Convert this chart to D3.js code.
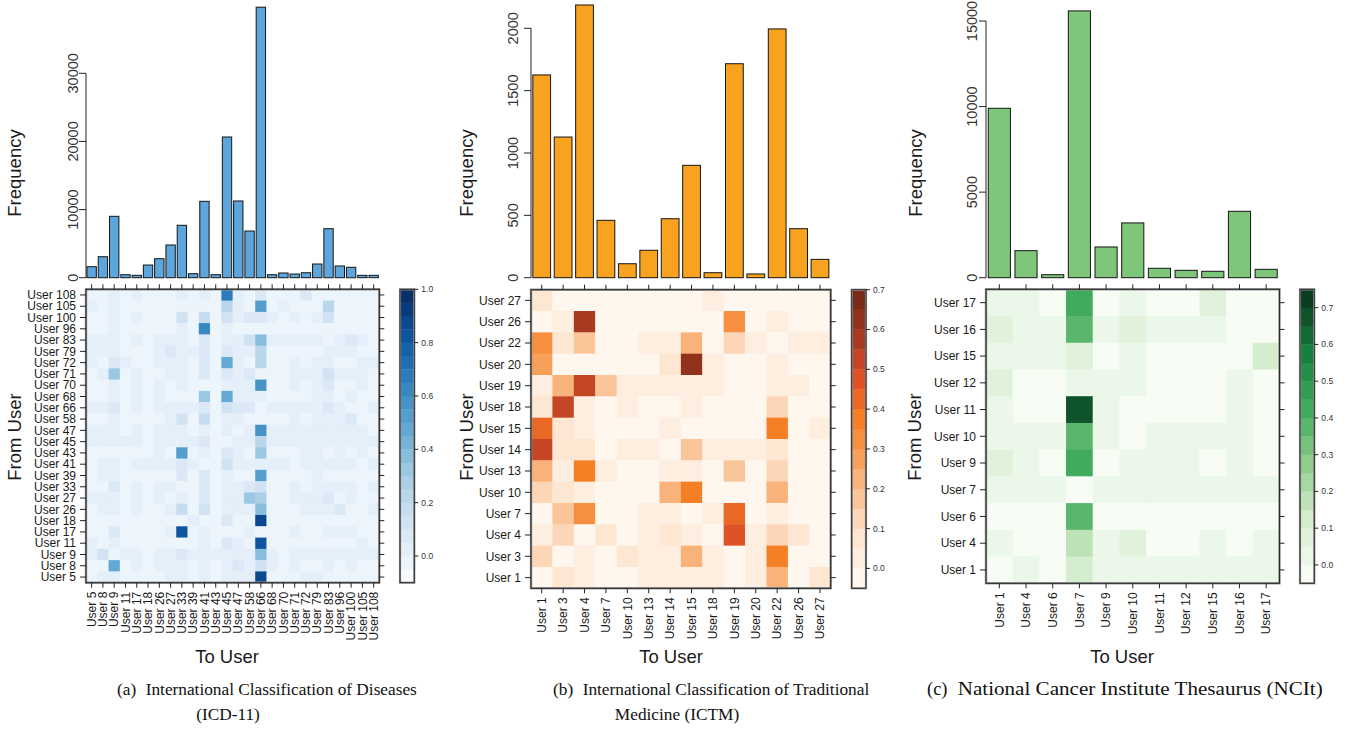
<!DOCTYPE html>
<html>
<head>
<meta charset="utf-8">
<script src="https://cdn.jsdelivr.net/npm/d3@7"></script>
<style>
  body { margin: 0; background: #fff; }
  svg { display: block; }
  text { font-family: "Liberation Sans", Arial, Helvetica, sans-serif; fill: #1a1a1a; }
  .cap { font-family: "Liberation Serif", "Times New Roman", serif; fill: #111; }
</style>
</head>
<body>
<svg id="fig" width="1349" height="731"></svg>
<script>
// ---------------- ICD-11 ----------------
const icdUsers = ["User 5","User 8","User 9","User 11","User 17","User 18","User 26","User 27","User 33","User 39",
  "User 41","User 43","User 45","User 47","User 58","User 66","User 68","User 70","User 71","User 72",
  "User 79","User 83","User 96","User 100","User 105","User 108"];
const icdFrequency = [1615, 3080, 9010, 440, 350, 1860, 2790, 4800, 7690, 590,
  11210, 440, 20650, 11260, 6850, 39700, 440, 690, 540, 730,
  2010, 7190, 1720, 1530, 350, 350];
const icdFreqTicks = [0, 10000, 20000, 30000];
const icdFrom = icdUsers.slice().reverse();          // heatmap rows, top to bottom
const icdMatrix = [
  [-.03,-.03,.02,-.03,.02,-.03,-.03,-.03,.02,-.03,.02,-.03,.67,.02,-.03,.07,-.03,-.03,-.03,.07,-.03,-.03,-.03,-.03,-.03,-.03],
  [.02,-.03,.02,-.03,-.03,-.03,-.03,-.03,-.03,-.03,-.03,-.03,.22,.02,-.03,.52,-.03,.02,-.03,-.03,-.03,.22,-.03,-.03,-.03,-.03],
  [-.03,-.03,.02,-.03,.02,-.03,-.03,-.03,.12,-.03,.17,-.03,.12,.02,.07,.07,.02,-.03,.02,-.03,.02,.12,-.03,-.03,-.03,-.03],
  [-.03,-.03,.02,-.03,-.03,-.03,-.03,-.03,.02,-.03,.62,-.03,.02,-.03,-.03,-.03,-.03,-.03,-.03,-.03,-.03,-.03,-.03,-.03,-.03,-.03],
  [.02,.02,.02,-.03,.02,-.03,.02,.02,.02,-.03,.07,-.03,.02,.02,.12,.37,.02,.02,.02,.02,.02,-.03,.02,.07,.02,-.03],
  [.02,.02,.02,-.03,-.03,-.03,.02,.07,.02,.02,.07,-.03,.07,.02,.02,.22,-.03,-.03,-.03,-.03,-.03,.02,.02,.02,-.03,-.03],
  [.02,-.03,.07,.02,-.03,-.03,.02,.02,.02,-.03,.07,-.03,.47,.02,-.03,.22,-.03,-.03,.02,-.03,.02,.02,-.03,-.03,.02,.02],
  [-.03,.02,.32,-.03,.02,-.03,-.03,.02,.02,-.03,.07,-.03,.07,.02,.07,-.03,-.03,-.03,.02,.02,.02,.12,.02,.02,.02,-.03],
  [-.03,-.03,.02,-.03,.02,-.03,.02,-.03,.02,-.03,-.03,-.03,.02,.02,.02,.57,-.03,-.03,.02,-.03,.02,.07,-.03,-.03,.02,-.03],
  [-.03,-.03,.02,-.03,.02,-.03,.02,-.03,-.03,-.03,.32,-.03,.47,.02,.02,.02,-.03,-.03,-.03,-.03,.02,.02,-.03,.02,-.03,-.03],
  [.02,.02,.07,-.03,.02,-.03,.02,.02,.02,.02,.07,-.03,.12,.07,.07,-.03,.02,.02,.02,.02,.02,.07,.02,-.03,-.03,.02],
  [-.03,-.03,.02,-.03,-.03,-.03,-.03,.02,.12,-.03,.17,-.03,.02,.02,-.03,-.03,-.03,-.03,.02,-.03,.02,.02,.02,.07,-.03,-.03],
  [.02,.02,.02,-.03,.02,-.03,.02,.02,.02,-.03,.02,-.03,.02,-.03,.02,.57,.02,.02,.02,.02,.02,.02,.02,.02,.02,-.03],
  [.02,.02,.02,.02,.02,-.03,.02,.02,.02,.02,.07,-.03,-.03,.02,.02,.22,.02,.02,.02,.02,.02,.02,.02,.02,.02,.02],
  [-.03,-.03,-.03,-.03,-.03,-.03,.02,-.03,.52,-.03,.02,-.03,.07,.02,-.03,.32,-.03,-.03,-.03,.02,.02,-.03,.02,-.03,.02,-.03],
  [-.03,.02,.02,-.03,.02,.02,.02,.02,.07,.02,-.03,-.03,.12,.02,.02,.02,.02,.02,-.03,.02,.02,.02,.02,.02,-.03,.02],
  [-.03,.02,.02,-.03,-.03,-.03,-.03,-.03,.07,-.03,.07,-.03,.02,-.03,-.03,.52,-.03,-.03,-.03,-.03,.02,-.03,-.03,-.03,-.03,-.03],
  [-.03,-.03,.07,-.03,.02,-.03,.02,.02,-.03,-.03,.07,-.03,.02,.02,.07,.12,-.03,-.03,.02,-.03,.02,.02,.02,.02,-.03,.02],
  [.02,.02,.02,-.03,.02,-.03,.02,-.03,.02,-.03,.07,-.03,.02,.02,.32,.27,-.03,-.03,.02,.02,.02,.07,-.03,.02,-.03,-.03],
  [-.03,.02,.02,-.03,.02,-.03,-.03,.02,.17,-.03,.12,-.03,.02,.02,.02,.37,-.03,-.03,-.03,.02,.02,.02,.07,-.03,-.03,.02],
  [-.03,-.03,-.03,-.03,-.03,-.03,-.03,-.03,-.03,.02,-.03,-.03,.07,-.03,-.03,.87,-.03,-.03,-.03,-.03,-.03,-.03,-.03,-.03,-.03,-.03],
  [-.03,-.03,.07,-.03,-.03,-.03,-.03,.02,.82,-.03,.02,-.03,-.03,-.03,.02,-.03,-.03,-.03,.02,-.03,-.03,.02,.02,.02,-.03,-.03],
  [.02,-.03,.02,-.03,-.03,-.03,-.03,-.03,-.03,-.03,.02,-.03,.07,.02,-.03,.82,-.03,-.03,-.03,-.03,-.03,-.03,-.03,-.03,.02,-.03],
  [.02,.12,-.03,.02,.02,-.03,.02,.02,.07,.02,.02,.02,.02,.02,.02,.37,.02,-.03,.02,.02,.02,.02,.02,.02,.02,.02],
  [-.03,-.03,.47,-.03,.02,-.03,.02,.02,.02,-.03,.02,-.03,.02,.07,.02,.12,.02,-.03,.02,-.03,-.03,.02,-.03,.02,-.03,-.03],
  [-.03,.02,.02,-.03,-.03,-.03,-.03,.02,.02,-.03,.02,-.03,.02,.02,.02,.87,-.03,-.03,-.03,.02,.02,-.03,-.03,-.03,-.03,-.03]
];
const icdScaleTicks = [0, 0.2, 0.4, 0.6, 0.8, 1.0];

// ---------------- ICTM ----------------
const ictmUsers = ["User 1","User 3","User 4","User 7","User 10","User 13","User 14","User 15","User 18","User 19",
  "User 20","User 22","User 26","User 27"];
const ictmFrequency = [1626, 1128, 2187, 460, 112, 220, 473, 901, 40, 1716, 30, 1995, 393, 147];
const ictmFreqTicks = [0, 500, 1000, 1500, 2000];
const ictmFrom = ictmUsers.slice().reverse();
const ictmMatrix = [
  [.07,-.02,-.02,-.02,-.02,-.02,-.02,-.02,.03,-.02,-.02,-.02,-.02,-.02],
  [-.02,.03,.57,-.02,-.02,-.02,-.02,-.02,-.02,.32,-.02,.03,-.02,-.02],
  [.32,.07,.17,-.02,-.02,.03,.03,.22,-.02,.12,.03,-.02,.03,.03],
  [.27,-.02,-.02,-.02,-.02,-.02,.07,.62,.03,-.02,-.02,.03,-.02,-.02],
  [.03,.22,.52,.17,.03,.03,.03,.03,.03,-.02,-.02,.03,.03,-.02],
  [.07,.52,.03,-.02,.03,-.02,-.02,.03,-.02,-.02,-.02,.12,-.02,-.02],
  [.42,.07,.03,-.02,-.02,-.02,.03,-.02,-.02,-.02,-.02,.37,-.02,.03],
  [.52,.07,.07,-.02,.03,.03,-.02,.17,.03,.03,.03,.07,-.02,-.02],
  [.22,.03,.37,.03,-.02,-.02,.03,.03,-.02,.17,-.02,.12,-.02,-.02],
  [.12,.07,.03,-.02,-.02,-.02,.22,.37,-.02,-.02,-.02,.22,-.02,-.02],
  [-.02,.17,.32,-.02,-.02,.03,.03,-.02,.03,.42,-.02,.03,-.02,-.02],
  [.03,.12,-.02,.07,-.02,.03,.07,.03,-.02,.47,.03,.12,.07,-.02],
  [.12,-.02,.03,-.02,.07,.03,.03,.22,.03,-.02,.03,.37,-.02,-.02],
  [-.02,.07,.03,-.02,-.02,.03,.03,.03,.03,-.02,.03,.22,-.02,.07]
];
const ictmScaleTicks = [0, 0.1, 0.2, 0.3, 0.4, 0.5, 0.6, 0.7];

// ---------------- NCIt ----------------
const ncitUsers = ["User 1","User 4","User 6","User 7","User 9","User 10","User 11","User 12","User 15","User 16","User 17"];
const ncitFrequency = [9900, 1580, 175, 15590, 1795, 3200, 550, 430, 375, 3880, 490];
const ncitFreqTicks = [0, 5000, 10000, 15000];
const ncitFrom = ncitUsers.slice().reverse();
const ncitMatrix = [
  [.03,.03,-.02,.42,-.02,.03,-.02,-.02,.07,-.02,-.02],
  [.07,.03,.03,.37,.03,.07,.03,.03,.03,-.02,-.02],
  [.03,.03,.03,.07,-.02,.03,-.02,-.02,-.02,-.02,.12],
  [.07,-.02,-.02,.03,.03,.03,-.02,-.02,-.02,.03,-.02],
  [.03,-.02,-.02,.67,.03,-.02,-.02,-.02,-.02,.03,-.02],
  [.03,.03,.03,.37,.03,-.02,.03,.03,.03,.03,-.02],
  [.07,.03,-.02,.42,-.02,.03,.03,.03,-.02,.03,-.02],
  [.03,.03,.03,-.02,.03,.03,.03,.03,.03,.03,.03],
  [-.02,-.02,-.02,.37,-.02,-.02,-.02,-.02,-.02,-.02,-.02],
  [.03,-.02,-.02,.17,.03,.07,-.02,-.02,.03,-.02,.03],
  [-.02,.03,-.02,.12,.03,.03,.03,.03,.03,.03,.03]
];
const ncitScaleTicks = [0, 0.1, 0.2, 0.3, 0.4, 0.5, 0.6, 0.7];

// ---------------- drawing ----------------
const svg = d3.select("#fig");
const BAR_BASE = 277.7;
const BIN = 0.05;

const orangeRamp = d3.piecewise(d3.interpolateRgb,
  ["#fff6ee", "#fde6d2", "#fbc59a", "#f7a05a", "#f47f25", "#df5127", "#a83a22", "#7a2a18"]);
const greenRamp = d3.piecewise(d3.interpolateRgb,
  ["#f7fcf5", "#d4edce", "#8fcd8a", "#40ab5c", "#18803f", "#0b3d20"]);

const panels = [
  { users: icdUsers, from: icdFrom, freq: icdFrequency, freqTicks: icdFreqTicks, matrix: icdMatrix,
    scaleTicks: icdScaleTicks, cbMin: -0.1, cbMax: 1.0, ramp: d3.interpolateBlues, barFill: "#5ca6dc",
    hx0: 86, hx1: 379.3, hy0: 289.3, hy1: 582.7, cbx: 400, topTickY: 73.3, labGap: 8.5,
    freqX: 15, fromX: 15, toX: 227,
    caption: [{t1: "(a)", t2: "International Classification of Diseases", x: 117, y: 695, size: 17.3},
              {t: "(ICD-11)", x: 228, y: 720, size: 17.3}] },
  { users: ictmUsers, from: ictmFrom, freq: ictmFrequency, freqTicks: ictmFreqTicks, matrix: ictmMatrix,
    scaleTicks: ictmScaleTicks, cbMin: -0.05, cbMax: 0.7, ramp: orangeRamp, barFill: "#f8a31f",
    hx0: 531, hx1: 830.7, hy0: 289.7, hy1: 588.3, cbx: 851.7, topTickY: 28.3, labGap: 13,
    freqX: 466.5, fromX: 466.5, toX: 671,
    caption: [{t1: "(b)", t2: "International Classification of Traditional", x: 553, y: 695, size: 17.3},
              {t: "Medicine (ICTM)", x: 677, y: 720, size: 17.3}] },
  { users: ncitUsers, from: ncitFrom, freq: ncitFrequency, freqTicks: ncitFreqTicks, matrix: ncitMatrix,
    scaleTicks: ncitScaleTicks, cbMin: -0.05, cbMax: 0.75, ramp: greenRamp, barFill: "#7ec77a",
    hx0: 986, hx1: 1279.5, hy0: 289.3, hy1: 583.3, cbx: 1300, topTickY: 21, labGap: 9,
    freqX: 915.5, fromX: 914.5, toX: 1122,
    caption: [{t1: "(c)", t2: "National Cancer Institute Thesaurus (NCIt)", x: 927, y: 695, size: 18.5, span: 365}] }
];

function drawPanel(p) {
  const g = svg.append("g");

  // ---- frequency bars ----
  const xb = d3.scaleBand().domain(p.users).range([p.hx0, p.hx1]).paddingInner(0.17).paddingOuter(0.085);
  const yb = d3.scaleLinear().domain([0, p.freqTicks[p.freqTicks.length - 1]]).range([BAR_BASE, p.topTickY]);
  g.append("g").selectAll("rect").data(p.users).join("rect")
    .attr("x", d => xb(d)).attr("width", xb.bandwidth())
    .attr("y", (d, i) => yb(p.freq[i])).attr("height", (d, i) => yb(0) - yb(p.freq[i]))
    .attr("fill", p.barFill).attr("stroke", "#151515").attr("stroke-width", 1);

  const yAxis = g.append("g").attr("transform", `translate(${p.hx0},0)`);
  yAxis.append("line").attr("y1", yb(0)).attr("y2", yb(p.freqTicks[p.freqTicks.length - 1]))
    .attr("stroke", "#222").attr("stroke-width", 1);
  yAxis.selectAll("line.t").data(p.freqTicks).join("line").attr("class", "t")
    .attr("x1", -7).attr("x2", 0).attr("y1", d => yb(d)).attr("y2", d => yb(d))
    .attr("stroke", "#222").attr("stroke-width", 1);
  yAxis.selectAll("text").data(p.freqTicks).join("text")
    .attr("transform", d => `translate(${-p.labGap},${yb(d)}) rotate(-90)`)
    .attr("text-anchor", "middle").style("font-size", "14.5px").style("fill", "#333")
    .text(d => d);

  g.append("text")
    .attr("transform", `translate(${p.freqX},${173}) rotate(-90)`)
    .attr("text-anchor", "middle").attr("dy", "0.35em").style("font-size", "18.5px")
    .text("Frequency");

  // ---- transition heatmap ----
  const nBins = Math.round((p.cbMax - p.cbMin) / BIN);
  const palette = d3.range(nBins).map(i => p.ramp(i / (nBins - 1)));
  const color = d3.scaleQuantize().domain([p.cbMin, p.cbMax]).range(palette);
  const xc = d3.scaleBand().domain(p.users).range([p.hx0, p.hx1]);
  const yc = d3.scaleBand().domain(p.from).range([p.hy0, p.hy1]);

  const cells = p.matrix.flatMap((row, r) => row.map((v, c) => ({ from: p.from[r], to: p.users[c], v })));
  g.append("g").selectAll("rect").data(cells).join("rect")
    .attr("x", d => xc(d.to)).attr("y", d => yc(d.from))
    .attr("width", xc.bandwidth() + 0.4).attr("height", yc.bandwidth() + 0.4)
    .attr("fill", d => color(d.v));

  // frame
  g.append("rect").attr("x", p.hx0).attr("y", p.hy0)
    .attr("width", p.hx1 - p.hx0).attr("height", p.hy1 - p.hy0)
    .attr("fill", "none").attr("stroke", "#9a9a9a").attr("stroke-width", 2.4);
  g.append("rect").attr("x", p.hx0).attr("y", p.hy0)
    .attr("width", p.hx1 - p.hx0).attr("height", p.hy1 - p.hy0)
    .attr("fill", "none").attr("stroke", "#2a2a2a").attr("stroke-width", 1.1);

  // ticks on all four sides
  const tk = g.append("g").attr("stroke", "#222").attr("stroke-width", 1);
  p.users.forEach(u => {
    const cx = xc(u) + xc.bandwidth() / 2;
    tk.append("line").attr("x1", cx).attr("x2", cx).attr("y1", p.hy0 - 5).attr("y2", p.hy0);
    tk.append("line").attr("x1", cx).attr("x2", cx).attr("y1", p.hy1).attr("y2", p.hy1 + 5);
  });
  p.from.forEach(u => {
    const cy = yc(u) + yc.bandwidth() / 2;
    tk.append("line").attr("x1", p.hx0 - 6).attr("x2", p.hx0).attr("y1", cy).attr("y2", cy);
    tk.append("line").attr("x1", p.hx1).attr("x2", p.hx1 + 5).attr("y1", cy).attr("y2", cy);
  });

  // row labels
  g.append("g").selectAll("text").data(p.from).join("text")
    .attr("x", p.hx0 - 10).attr("y", d => yc(d) + yc.bandwidth() / 2)
    .attr("dy", "0.35em").attr("text-anchor", "end").style("font-size", "12px")
    .text(d => d);
  // column labels
  g.append("g").selectAll("text").data(p.users).join("text")
    .attr("transform", d => `translate(${xc(d) + xc.bandwidth() / 2},${p.hy1 + 9}) rotate(-90)`)
    .attr("dy", "0.35em").attr("text-anchor", "end").style("font-size", "12px")
    .text(d => d);

  g.append("text")
    .attr("transform", `translate(${p.fromX},${437}) rotate(-90)`)
    .attr("text-anchor", "middle").attr("dy", "0.35em").style("font-size", "18.5px")
    .text("From User");
  g.append("text").attr("x", p.toX).attr("y", 663)
    .attr("text-anchor", "middle").style("font-size", "18.5px")
    .text("To User");

  // ---- colour key ----
  const cbw = 14.3;
  const ys = d3.scaleLinear().domain([p.cbMin, p.cbMax]).range([p.hy1, p.hy0]);
  g.append("g").selectAll("rect").data(palette).join("rect")
    .attr("x", p.cbx).attr("width", cbw)
    .attr("y", (d, i) => ys(p.cbMin + (i + 1) * BIN))
    .attr("height", (d, i) => ys(p.cbMin + i * BIN) - ys(p.cbMin + (i + 1) * BIN) + 0.3)
    .attr("fill", d => d);
  g.append("rect").attr("x", p.cbx).attr("y", p.hy0).attr("width", cbw).attr("height", p.hy1 - p.hy0)
    .attr("fill", "none").attr("stroke", "#9a9a9a").attr("stroke-width", 2.2);
  g.append("rect").attr("x", p.cbx).attr("y", p.hy0).attr("width", cbw).attr("height", p.hy1 - p.hy0)
    .attr("fill", "none").attr("stroke", "#2a2a2a").attr("stroke-width", 1);
  const kt = g.append("g");
  kt.selectAll("line").data(p.scaleTicks).join("line")
    .attr("x1", p.cbx + cbw).attr("x2", p.cbx + cbw + 4)
    .attr("y1", d => ys(d)).attr("y2", d => ys(d))
    .attr("stroke", "#222").attr("stroke-width", 1);
  kt.selectAll("text").data(p.scaleTicks).join("text")
    .attr("x", p.cbx + cbw + 7).attr("y", d => ys(d)).attr("dy", "0.35em")
    .style("font-size", "8.5px").style("fill", "#333")
    .text(d => d.toFixed(1));

  // ---- caption ----
  p.caption.forEach(c => {
    if (c.t1) {
      const lab = g.append("text").attr("class", "cap").attr("x", c.x).attr("y", c.y)
        .style("font-size", c.size + "px").text(c.t1);
      const labW = lab.node().getComputedTextLength();
      const body = g.append("text").attr("class", "cap").attr("x", c.x + labW + c.size * 0.55).attr("y", c.y)
        .style("font-size", c.size + "px").text(c.t2);
      if (c.span) body.attr("textLength", c.span).attr("lengthAdjust", "spacingAndGlyphs");
    } else {
      g.append("text").attr("class", "cap").attr("x", c.x).attr("y", c.y)
        .attr("text-anchor", "middle").style("font-size", c.size + "px").text(c.t);
    }
  });
}

panels.forEach(drawPanel);
</script>
</body>
</html>
